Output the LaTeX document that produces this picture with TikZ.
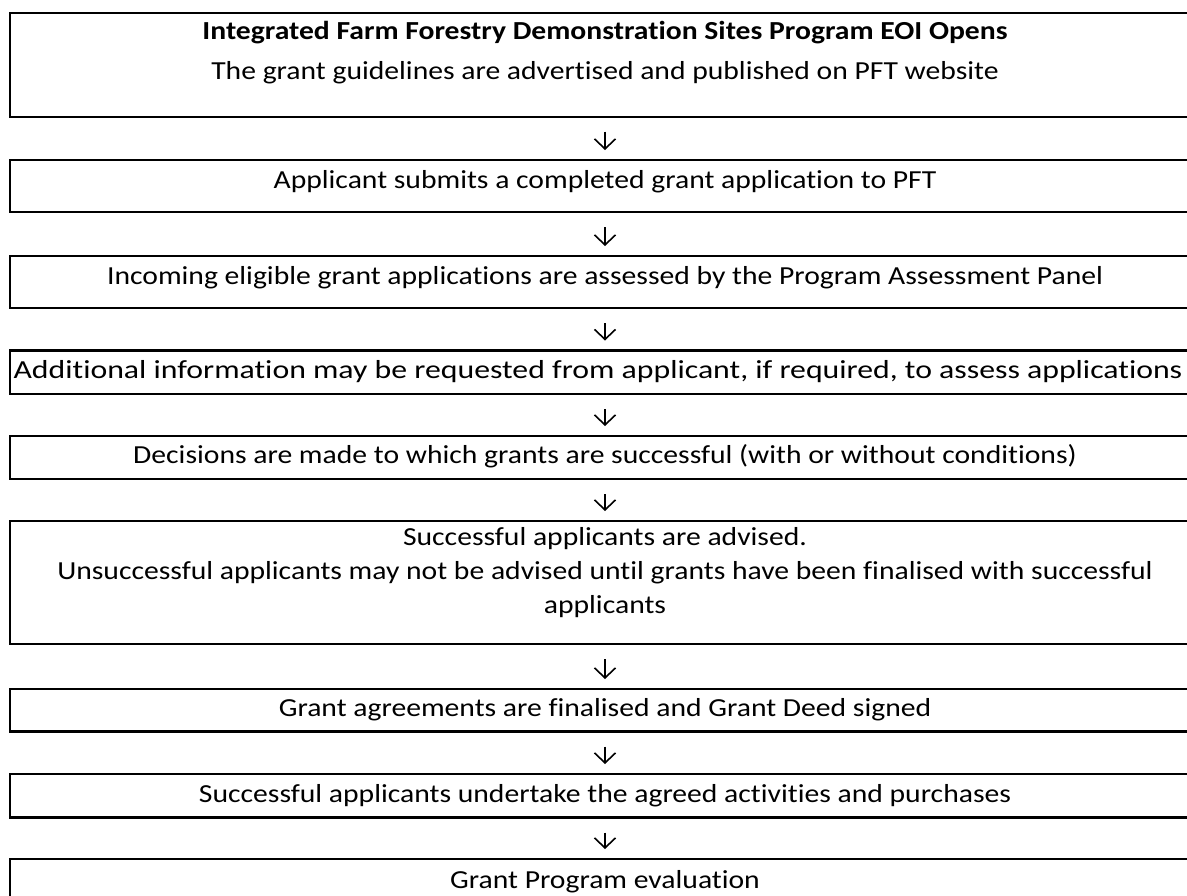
\documentclass[tikz,border=0pt]{standalone}
\usepackage{fontspec}
\setmainfont[Ligatures=NoCommon,FakeStretch=1.14]{Carlito}
\newfontfamily\widefont[Ligatures=NoCommon,FakeStretch=1.222]{Carlito}
\usetikzlibrary{arrows.meta}
\begin{document}
\begin{tikzpicture}[x=1pt,y=-1pt,
  box/.style={draw=black,line width=2.4pt,rectangle,minimum width=1190pt,inner sep=0pt,outer sep=0pt},
  txt/.style={anchor=base,inner sep=0pt,align=center,font=\fontsize{26}{34}\selectfont},
  arr/.style={line width=1.6pt,-{Straight Barb[length=10pt,width=21pt,line width=1.6pt]}}]
\useasboundingbox (0,0) rectangle (1187,895);
\clip (0,0) rectangle (1187,895);
% boxes
\node[box,minimum height=104pt] (b1) at (605,64.7) {};
\node[box,minimum height=52pt] (b2) at (605,186) {};
\node[box,minimum height=52pt] (b3) at (605,282) {};
\node[box,minimum height=43.5pt] (b4) at (605,372.25) {};
\node[box,minimum height=43pt] (b5) at (605,457.5) {};
\node[box,minimum height=123pt] (b6) at (605,582.5) {};
\node[box,minimum height=42.5pt] (b7) at (605,710.25) {};
\node[box,minimum height=43.5pt] (b8) at (605,795.75) {};
\node[box,minimum height=71pt] (b9) at (605,894.5) {};
% texts
\node[txt] (t1a) at (605,39) {\textbf{Integrated Farm Forestry Demonstration Sites Program EOI Opens}};
\node[txt] (t1b) at (605,79) {The grant guidelines are advertised and published on PFT website};
\node[txt] (t2) at (605,188) {Applicant submits a completed grant application to PFT};
\node[txt] (t3) at (605,284) {Incoming eligible grant applications are assessed by the Program Assessment Panel};
\node[txt] (t4) at (598,378) {\widefont Additional information may be requested from applicant, if required, to assess applications};
\node[txt] (t5) at (605,463) {Decisions are made to which grants are successful (with or without conditions)};
\node[txt] (t6) at (605,613) {Successful applicants are advised.\\Unsuccessful applicants may not be advised until grants have been finalised with successful\\applicants};
\node[txt] (t7) at (605,716) {Grant agreements are finalised and Grant Deed signed};
\node[txt] (t8) at (605,802) {Successful applicants undertake the agreed activities and purchases};
\node[txt] (t9) at (605,888) {Grant Program evaluation};
% arrows
\draw[arr,shorten <=15pt,shorten >=10pt] (b1.south) -- (b2.north);
\draw[arr,shorten <=15pt,shorten >=10pt] (b2.south) -- (b3.north);
\draw[arr,shorten <=15pt,shorten >=10pt] (b3.south) -- (b4.north);
\draw[arr,shorten <=15pt,shorten >=10pt] (b4.south) -- (b5.north);
\draw[arr,shorten <=15pt,shorten >=10pt] (b5.south) -- (b6.north);
\draw[arr,shorten <=15pt,shorten >=10pt] (b6.south) -- (b7.north);
\draw[arr,shorten <=15pt,shorten >=10pt] (b7.south) -- (b8.north);
\draw[arr,shorten <=15pt,shorten >=10pt] (b8.south) -- (b9.north);
\end{tikzpicture}
\end{document}
